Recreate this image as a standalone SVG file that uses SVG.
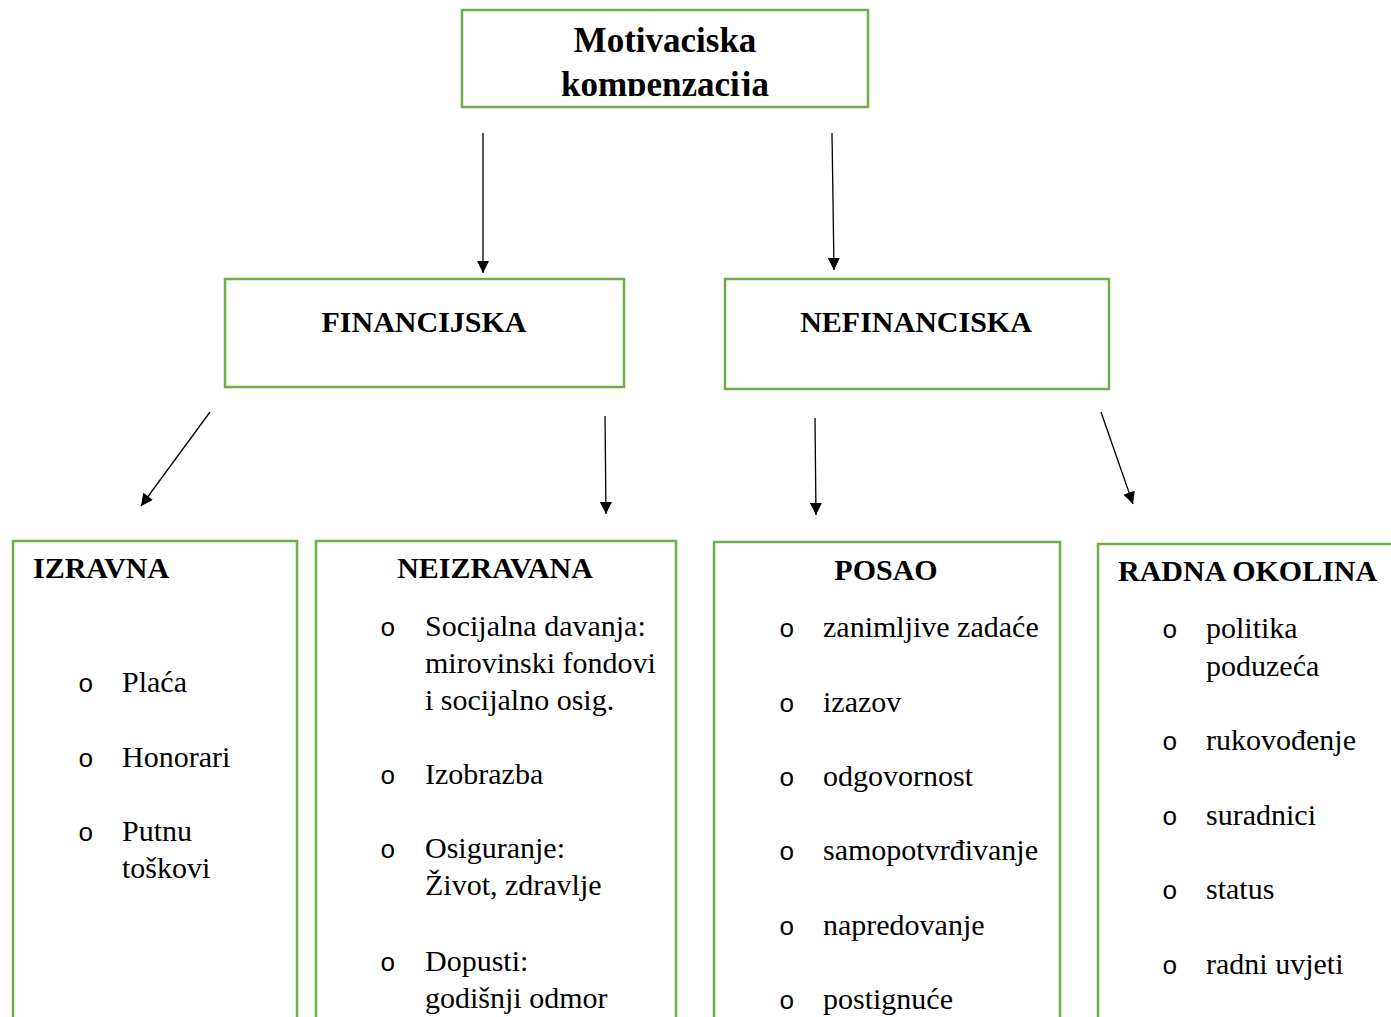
<svg xmlns="http://www.w3.org/2000/svg" width="1391" height="1017" viewBox="0 0 1391 1017">
<style>
.box{fill:#fff;stroke:#70ad47;stroke-width:2.5}
.t{font-family:"Liberation Serif","Times New Roman",serif;fill:#000}
.b{font-weight:bold;font-size:30px}
.n{font-size:30px}
.bul{font-family:"Liberation Mono","Courier New",monospace;font-size:26px;fill:#000}
.c{stroke:#000;stroke-width:1.3;fill:none;marker-end:url(#ah)}
</style>
<defs>
<marker id="ah" viewBox="0 0 10 10" refX="10" refY="5" markerWidth="14" markerHeight="12" markerUnits="userSpaceOnUse" orient="auto">
<path d="M0,0 L10,5 L0,10 z" fill="#000"/>
</marker>
<clipPath id="topclip"><rect x="462" y="10" width="406" height="86"/></clipPath>
</defs>
<rect width="1391" height="1017" fill="#fff"/>
<g id="connectors">
<line class="c" x1="483" y1="133" x2="483" y2="273"/>
<line class="c" x1="832" y1="133" x2="834" y2="270"/>
<line class="c" x1="210" y1="412" x2="141" y2="506"/>
<line class="c" x1="605" y1="416" x2="606" y2="514"/>
<line class="c" x1="815" y1="418" x2="816" y2="515"/>
<line class="c" x1="1101" y1="412" x2="1133" y2="504"/>
</g>
<g id="motivaciska">
<rect class="box" x="462" y="10" width="406" height="97"/>
<g clip-path="url(#topclip)">
<text class="t" x="665" y="52" text-anchor="middle" font-weight="bold" font-size="35">Motivaciska</text>
<text class="t" x="665" y="96" text-anchor="middle" font-weight="bold" font-size="35">kompenzacija</text>
</g>
</g>
<g id="financijska">
<rect class="box" x="225" y="279" width="399" height="108"/>
<text class="t b" x="424" y="332" text-anchor="middle">FINANCIJSKA</text>
</g>
<g id="nefinanciska">
<rect class="box" x="725" y="279" width="384" height="110"/>
<text class="t b" x="916" y="332" text-anchor="middle">NEFINANCISKA</text>
</g>
<g id="izravna">
<rect class="box" x="13" y="541" width="284" height="490"/>
<text class="t b" x="33" y="578">IZRAVNA</text>
<text class="bul" x="78" y="692">o</text><text class="t n" x="122" y="692">Plaća</text>
<text class="bul" x="78" y="767">o</text><text class="t n" x="122" y="767">Honorari</text>
<text class="bul" x="78" y="841">o</text><text class="t n" x="122" y="841">Putnu</text>
<text class="t n" x="122" y="878">toškovi</text>
</g>
<g id="neizravana">
<rect class="box" x="316" y="541" width="360" height="490"/>
<text class="t b" x="495" y="578" text-anchor="middle">NEIZRAVANA</text>
<text class="bul" x="380" y="636">o</text><text class="t n" x="425" y="636">Socijalna davanja:</text>
<text class="t n" x="425" y="673">mirovinski fondovi</text>
<text class="t n" x="425" y="710">i socijalno osig.</text>
<text class="bul" x="380" y="784">o</text><text class="t n" x="425" y="784">Izobrazba</text>
<text class="bul" x="380" y="858">o</text><text class="t n" x="425" y="858">Osiguranje:</text>
<text class="t n" x="425" y="895">Život, zdravlje</text>
<text class="bul" x="380" y="971">o</text><text class="t n" x="425" y="971">Dopusti:</text>
<text class="t n" x="425" y="1008">godišnji odmor</text>
</g>
<g id="posao">
<rect class="box" x="714" y="542" width="346" height="490"/>
<text class="t b" x="886" y="580" text-anchor="middle">POSAO</text>
<text class="bul" x="779" y="637">o</text><text class="t n" x="823" y="637">zanimljive zadaće</text>
<text class="bul" x="779" y="712">o</text><text class="t n" x="823" y="712">izazov</text>
<text class="bul" x="779" y="786">o</text><text class="t n" x="823" y="786">odgovornost</text>
<text class="bul" x="779" y="860">o</text><text class="t n" x="823" y="860">samopotvrđivanje</text>
<text class="bul" x="779" y="935">o</text><text class="t n" x="823" y="935">napredovanje</text>
<text class="bul" x="779" y="1009">o</text><text class="t n" x="823" y="1009">postignuće</text>
</g>
<g id="radna-okolina">
<rect class="box" x="1098" y="544" width="320" height="490"/>
<text class="t b" x="1118" y="581">RADNA OKOLINA</text>
<text class="bul" x="1162" y="638">o</text><text class="t n" x="1206" y="638">politika</text>
<text class="t n" x="1206" y="676">poduzeća</text>
<text class="bul" x="1162" y="750">o</text><text class="t n" x="1206" y="750">rukovođenje</text>
<text class="bul" x="1162" y="825">o</text><text class="t n" x="1206" y="825">suradnici</text>
<text class="bul" x="1162" y="899">o</text><text class="t n" x="1206" y="899">status</text>
<text class="bul" x="1162" y="974">o</text><text class="t n" x="1206" y="974">radni uvjeti</text>
</g>
</svg>
